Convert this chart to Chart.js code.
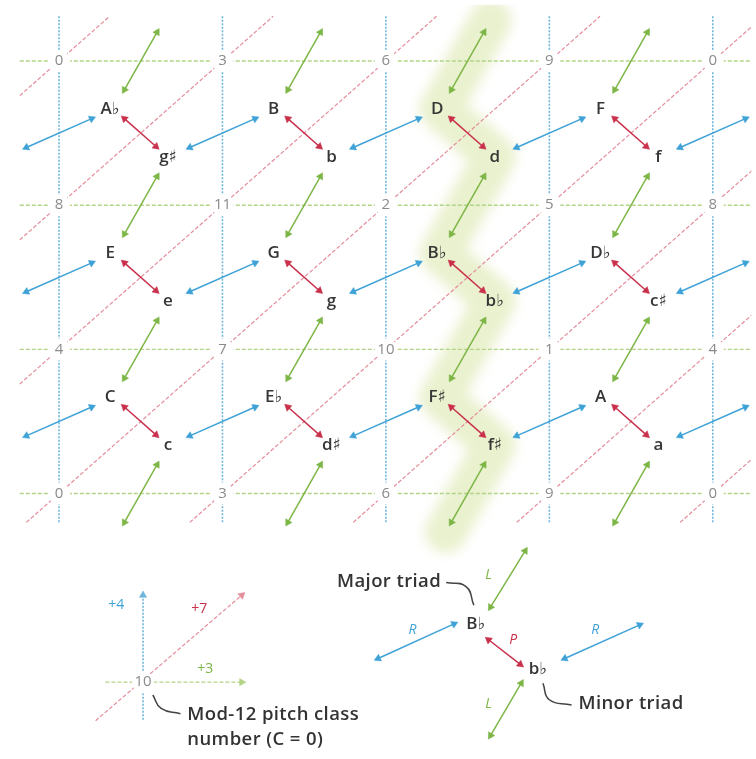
<!DOCTYPE html>
<html><head><meta charset="utf-8">
<script src="https://cdn.jsdelivr.net/npm/chart.js@4/dist/chart.umd.min.js"></script>
<style>html,body{margin:0;padding:0;background:#fff}canvas{display:block}</style>
</head><body>
<canvas id="c" width="756" height="759"></canvas>
<script>
// ---------- DATA ----------
const columns = [0, 1, 2, 3, 4];
const rows = [0, 1, 2, 3];
const pitchClasses = [
  [0, 3, 6, 9, 0],
  [8, 11, 2, 5, 8],
  [4, 7, 10, 1, 4],
  [0, 3, 6, 9, 0]
];
const majorTriads = [
  ['A♭', 'B', 'D', 'F'],
  ['E', 'G', 'B♭', 'D♭'],
  ['C', 'E♭', 'F♯', 'A']
];
const minorTriads = [
  ['g♯', 'b', 'd', 'f'],
  ['e', 'g', 'b♭', 'c♯'],
  ['c', 'd♯', 'f♯', 'a']
];
const highlightColumn = 2;
const diagonalOffsets = [0, 1, 2, 3, 4, 5, 6, 7];   // +7 lines: u + v = k
const legendOrigin = { x: 0.514, y: 4.308, label: '10' };
const legendSteps = ['+4', '+7', '+3'];
const legendCaption = ['Mod-12 pitch class', 'number (C = 0)'];
const legendMoves = ['L', 'R', 'P', 'R', 'L'];
const legendTriads = ['B♭', 'b♭', 'Major triad', 'Minor triad'];

// ---------- STYLE ----------
const BLUE = '#3fa2d6', GREEN = '#7db646', RED = '#c8304c';
const GRID_BLUE = '#6fb6dc', GRID_GREEN = '#b3d486', GRID_RED = '#e48d9b';
const FONT = "'Open Sans', 'DejaVu Sans', sans-serif";
const region = { uMin: -0.24, uMax: 4.3, vMin: -0.31, vMax: 3.2 };

// ---------- GEOMETRY ----------
const major = (i, j) => ({ x: i + 1 / 3, y: j + 1 / 3 });
const minor = (i, j) => ({ x: i + 2 / 3, y: j + 2 / 3 });
const lerp = (a, b, t) => ({ x: a.x + (b.x - a.x) * t, y: a.y + (b.y - a.y) * t });

function headRotation(ctx) {
  const d = ctx.dataset.data, i = ctx.dataIndex;
  const p = d[i], o = d[1 - i];
  const xs = ctx.chart.scales.x, ys = ctx.chart.scales.y;
  if (!xs || !ys || !o) return 0;
  const dx = xs.getPixelForValue(p.x) - xs.getPixelForValue(o.x);
  const dy = ys.getPixelForValue(p.y) - ys.getPixelForValue(o.y);
  return Math.atan2(dx, -dy) * 180 / Math.PI;
}

const datasets = [];
function line(points, color, width, dash, order, extra) {
  datasets.push(Object.assign({
    type: 'line', data: points, borderColor: color, borderWidth: width,
    borderDash: dash || [], pointRadius: 0, pointHoverRadius: 0, fill: false,
    tension: 0, order: order
  }, extra || {}));
}
function arrow(a, b, color, heads, dash, width) {
  datasets.push({
    type: 'line', data: [a, b], borderColor: color, borderWidth: width || 1.5,
    borderDash: dash || [], fill: false, tension: 0, order: 10,
    pointStyle: 'triangle',
    pointRadius: (c) => heads[c.dataIndex] ? 4.2 : 0,
    pointHoverRadius: 0,
    pointRotation: headRotation,
    pointBackgroundColor: color, pointBorderColor: color, pointBorderWidth: 0.5
  });
}

// highlight zig-zag along column 2
{
  const c = highlightColumn;
  const pts = [lerp(minor(c, -1), major(c, 0), 0.08)];
  for (let j = 0; j < 3; j++) { pts.push(major(c, j)); pts.push(minor(c, j)); }
  pts.push(lerp(minor(c, 2), major(c, 3), 0.9));
  line(pts, 'rgba(206,222,140,0.42)', 42, [], 100, { blur: 6, borderJoinStyle: 'round', borderCapStyle: 'round' });
}

// grid lines
rows.forEach(v => line([{ x: region.uMin, y: v }, { x: region.uMax, y: v }], GRID_GREEN, 1.4, [4, 2], 50));
columns.forEach(u => line([{ x: u, y: region.vMin }, { x: u, y: region.vMax }], GRID_BLUE, 1.6, [2, 1.5], 50));
diagonalOffsets.forEach(k => {
  const u0 = Math.max(region.uMin, k - region.vMax), u1 = Math.min(region.uMax, k - region.vMin);
  if (u0 < u1) line([{ x: u0, y: k - u0 }, { x: u1, y: k - u1 }], GRID_RED, 1.2, [4, 2], 50);
});

// transformation arrows
for (let j = 0; j < 3; j++) {
  for (let i = 0; i < 4; i++) arrow(lerp(major(i, j), minor(i, j), 0.2), lerp(major(i, j), minor(i, j), 0.78), RED, [1, 1]);
  for (let i = -1; i < 4; i++) arrow(lerp(minor(i, j), major(i + 1, j), 0.2), lerp(minor(i, j), major(i + 1, j), 0.8), BLUE, [1, 1]);
}
for (let j = -1; j < 3; j++)
  for (let i = 0; i < 4; i++) arrow(lerp(minor(i, j), major(i, j + 1), 0.2), lerp(minor(i, j), major(i, j + 1), 0.8), GREEN, [1, 1]);

// left legend: interval directions
const O = legendOrigin;
arrow({ x: O.x, y: O.y + 0.26 }, { x: O.x, y: O.y - 0.603 }, GRID_BLUE, [0, 1], [2, 1.5], 1.6);
arrow({ x: O.x - 0.23, y: O.y }, { x: O.x + 0.604, y: O.y }, GRID_GREEN, [0, 1], [4, 2], 1.4);
arrow({ x: O.x - 0.29, y: O.y + 0.267 }, { x: O.x + 0.604, y: O.y - 0.603 }, GRID_RED, [0, 1], [4, 2], 1.2);
line([{ x: 0.574, y: 4.397 }, { x: 0.625, y: 4.49 }, { x: 0.743, y: 4.527 }], '#444', 1.5, [], 10, { tension: 0.5 });

// right legend: P, R, L moves
const LB = { x: 2.55, y: 3.904 }, LS = { x: 2.931, y: 4.219 };
arrow({ x: 2.640, y: 3.788 }, { x: 2.852, y: 3.397 }, GREEN, [1, 1]);
arrow({ x: 2.828, y: 4.315 }, { x: 2.640, y: 4.678 }, GREEN, [1, 1]);
arrow({ x: 2.417, y: 3.904 }, { x: 1.952, y: 4.144 }, BLUE, [1, 1]);
arrow({ x: 3.094, y: 4.144 }, { x: 3.553, y: 3.911 }, BLUE, [1, 1]);
arrow({ x: 2.628, y: 4.014 }, { x: 2.822, y: 4.185 }, RED, [1, 1]);
line([{ x: 2.369, y: 3.616 }, { x: 2.49, y: 3.645 }, { x: 2.538, y: 3.774 }], '#444', 1.5, [], 10, { tension: 0.5 });
line([{ x: 2.961, y: 4.315 }, { x: 3.0, y: 4.43 }, { x: 3.136, y: 4.466 }], '#444', 1.5, [], 10, { tension: 0.5 });

// ---------- TEXT ----------
const TRIAD_FONT = '600 17px ' + FONT;
const CAPTION_FONT = '600 18.5px ' + FONT;
const labels = [];
rows.forEach(v => columns.forEach(u => labels.push({ x: u, y: v, text: String(pitchClasses[v][u]), color: '#8b8b8b', font: '15px ' + FONT, bg: 11 })));
for (let j = 0; j < 3; j++) for (let i = 0; i < 4; i++) {
  const M = major(i, j), m = minor(i, j);
  labels.push({ x: M.x - 0.02, y: M.y, text: majorTriads[j][i], color: '#363636', font: TRIAD_FONT });
  labels.push({ x: m.x, y: m.y, text: minorTriads[j][i], color: '#363636', font: TRIAD_FONT });
}
labels.push({ x: O.x, y: O.y, text: O.label, color: '#8b8b8b', font: '15px ' + FONT, bg: 11 });
labels.push({ x: 0.350, y: 3.774, text: legendSteps[0], color: BLUE, font: '14px ' + FONT });
labels.push({ x: 0.858, y: 3.801, text: legendSteps[1], color: RED, font: '14px ' + FONT });
labels.push({ x: 0.894, y: 4.219, text: legendSteps[2], color: GREEN, font: '14px ' + FONT });
labels.push({ x: 0.785, y: 4.534, text: legendCaption[0], color: '#333', font: CAPTION_FONT, align: 'left', spacing: 0.4 });
labels.push({ x: 0.785, y: 4.71, text: legendCaption[1], color: '#333', font: CAPTION_FONT, align: 'left', spacing: 0.4 });
labels.push({ x: LB.x, y: LB.y, text: legendTriads[0], color: '#363636', font: TRIAD_FONT });
labels.push({ x: LS.x, y: LS.y, text: legendTriads[1], color: '#363636', font: TRIAD_FONT });
labels.push({ x: 2.338, y: 3.610, text: legendTriads[2], color: '#333', font: CAPTION_FONT, align: 'right', spacing: 0.4 });
labels.push({ x: 3.178, y: 4.459, text: legendTriads[3], color: '#333', font: CAPTION_FONT, align: 'left', spacing: 0.4 });
const moveColors = [GREEN, BLUE, RED, BLUE, GREEN];
const movePos = [[2.628, 3.568], [2.163, 3.945], [2.779, 4.014], [3.281, 3.945], [2.628, 4.459]];
legendMoves.forEach((t, k) => labels.push({ x: movePos[k][0], y: movePos[k][1], text: t, color: moveColors[k], font: 'italic 14px ' + FONT }));

// ---------- PLUGINS ----------
const bgPlugin = { id: 'bg', beforeDraw(c) { const g = c.ctx; g.save(); g.fillStyle = '#fff'; g.fillRect(0, 0, c.width, c.height); g.restore(); } };
const blurPlugin = {
  id: 'blur',
  beforeDatasetDraw(c, a) { const d = c.data.datasets[a.index]; if (d.blur) { c.ctx.save(); c.ctx.filter = 'blur(' + d.blur + 'px)'; } },
  afterDatasetDraw(c, a) { const d = c.data.datasets[a.index]; if (d.blur) c.ctx.restore(); }
};
const labelPlugin = {
  id: 'labels',
  afterDatasetsDraw(c) {
    const g = c.ctx, xs = c.scales.x, ys = c.scales.y;
    labels.forEach(l => {
      g.save();
      const px = xs.getPixelForValue(l.x), py = ys.getPixelForValue(l.y);
      if (l.bg) { g.fillStyle = '#fff'; g.beginPath(); g.arc(px, py, l.bg, 0, Math.PI * 2); g.fill(); }
      g.font = l.font; g.fillStyle = l.color; g.textAlign = l.align || 'center'; g.textBaseline = 'middle';
      if (l.spacing && 'letterSpacing' in g) g.letterSpacing = l.spacing + 'px';
      g.fillText(l.text, px, py);
      g.restore();
    });
  }
};

new Chart(document.getElementById('c'), {
  type: 'scatter',
  data: { datasets },
  options: {
    responsive: false, animation: false, events: [],
    layout: { padding: 0 },
    plugins: { legend: { display: false }, tooltip: { enabled: false } },
    scales: {
      x: { type: 'linear', display: false, min: -0.3323, max: 4.2356 },
      y: { type: 'linear', display: false, reverse: true, min: -0.3904, max: 4.8082 }
    }
  },
  plugins: [bgPlugin, blurPlugin, labelPlugin]
});
</script>
</body></html>
